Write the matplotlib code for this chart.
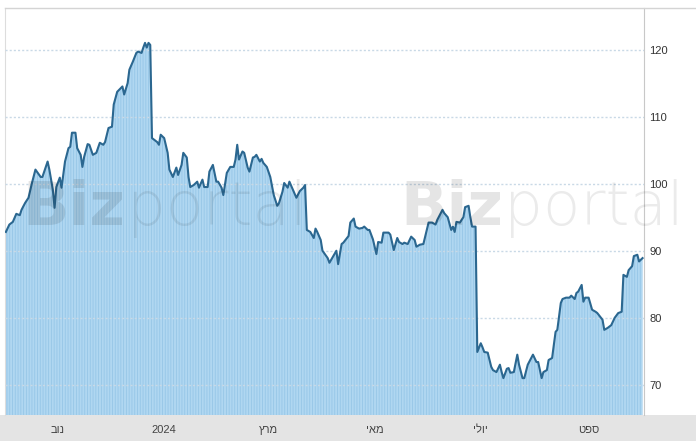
import numpy as np
import matplotlib
matplotlib.use("Agg")
import matplotlib.pyplot as plt
from matplotlib.patches import Rectangle
from matplotlib.lines import Line2D

plt.rcParams["font.family"] = ["Liberation Sans", "DejaVu Sans"]
plt.rcParams["hatch.linewidth"] = 0.6

# days since 2023-10-01 and closing price
start = np.datetime64("2023-10-01")
day_offset = [
    1, 3, 5, 7, 9, 10, 12, 14, 16, 18, 21, 22, 25, 26, 28, 29, 30, 32, 33, 35,
    37, 38, 39, 41, 42, 44, 45, 46, 48, 49, 51, 53, 55, 57,
    58, 60, 62, 63, 65, 68, 69, 71, 72, 74, 76, 77, 79, 80, 81, 82, 83, 84, 85, 88,
    89, 90, 92, 94, 95, 97, 99, 100, 102, 103, 105, 106, 107, 109, 111, 112, 114, 115, 117,
    118, 120, 122, 123, 125, 126, 128, 130, 132, 133, 134, 135, 137, 138, 140, 141,
    143, 144, 145, 147, 148, 149, 151, 153, 155, 157, 158, 160, 161, 163, 164, 166,
    168, 170, 172, 173, 174, 176, 178, 179, 180,
    182, 183, 186, 187, 189, 191, 192, 194, 195, 198, 199, 201, 202, 204, 206, 207,
    209, 210, 212, 214, 215, 217, 218, 221, 222, 224, 226, 227, 229, 230, 232, 234,
    236, 237, 239, 241,
    244, 246, 248, 249, 252, 253, 255, 257, 258, 259, 260, 262, 264, 265, 267, 268,
    269, 271, 272, 274, 275, 276, 278, 280, 281, 283, 285, 286, 287, 289, 290, 291,
    293, 295, 296, 298, 299,
    301, 303, 304, 306, 307, 309, 310, 312, 313, 315, 317, 318, 320, 321, 323, 325,
    326, 328, 329, 330, 332, 333, 334, 336, 338, 340, 341, 344, 345, 347, 349, 351,
    353, 355, 356, 358, 359, 361, 362, 364, 365, 367,
]
close = [
    92.9, 94.0, 94.4, 95.6, 95.4, 96.2, 97.2, 98.0, 100.2, 102.2, 101.1, 101.1, 103.4,
    102.2, 99.2, 96.5, 99.6, 101.0, 99.5, 103.4, 105.4, 105.6, 107.7, 107.7, 105.4,
    104.4, 102.6, 104.1, 106.0, 105.9, 104.4, 104.7, 106.2, 105.9,
    106.3, 108.4, 108.6, 111.9, 113.8, 114.6, 113.4, 115.1, 117.1, 118.3, 119.6, 119.8,
    119.6, 120.4, 121.1, 120.4, 121.1, 120.8, 106.9, 106.3, 105.9, 107.4, 106.9, 104.7,
    102.2, 101.1, 102.5, 101.4, 102.9, 104.7, 104.0, 101.1, 99.6, 99.9, 100.4, 99.5,
    100.7, 99.6, 99.6,
    101.9, 102.9, 100.4, 100.4, 99.5, 98.4, 101.7, 102.6, 102.6, 103.7, 105.9, 103.7,
    104.9, 104.7, 102.5, 101.9, 104.0, 104.1, 104.4, 103.4, 103.8, 103.2, 102.6, 101.1,
    98.4, 96.8, 97.2, 98.9, 100.2, 99.5, 100.4, 99.2, 98.0, 99.0, 99.5, 99.9, 93.2,
    92.9, 92.0, 93.4, 92.9,
    91.7, 90.1, 89.0, 88.3, 89.2, 90.1, 88.1, 91.1, 91.3, 92.3, 94.3, 94.9, 93.7, 93.4,
    93.5, 93.7, 93.2, 93.2, 91.8, 89.6, 91.4, 91.3, 92.8, 92.8, 92.5, 90.2, 92.0, 91.4,
    91.1, 91.3, 91.1, 92.2, 91.7, 90.7, 91.0, 91.1,
    94.3, 94.3, 94.0, 94.7, 96.2, 95.7, 95.1, 93.2, 93.7, 92.9, 94.4, 94.3, 95.1, 96.6,
    96.8, 95.1, 93.7, 93.7, 75.0, 76.3, 75.7, 75.0, 74.9, 72.8, 72.3, 72.0, 73.1, 72.0,
    71.1, 72.5, 72.6, 71.9, 72.0, 74.6, 73.1, 71.1, 71.1,
    73.1, 74.1, 74.6, 73.5, 73.5, 71.1, 72.0, 72.3, 73.8, 74.1, 78.0, 78.3, 82.3, 82.9,
    83.1, 83.1, 83.4, 82.9, 83.8, 84.0, 85.0, 82.5, 83.1, 83.1, 81.3, 81.0, 80.8, 79.8,
    78.3, 78.6, 79.0, 80.1, 80.8, 81.0, 86.5, 86.2, 87.2, 87.8, 89.3, 89.5, 88.5, 89.0,
]

month_ticks = ["2023-11-01", "2024-01-01", "2024-03-01", "2024-05-01", "2024-07-01", "2024-09-01"]
month_labels = ["נוב", "2024", "מרץ", "מאי", "יולי", "ספט"]
y_ticks = [70, 80, 90, 100, 110, 120]

dates = start + np.array(day_offset).astype("timedelta64[D]")


def visual(s):
    # matplotlib draws glyphs left to right, so Hebrew words are reversed for display
    if any("\u0590" <= c <= "\u05ff" for c in s):
        return s[::-1]
    return s


W, H = 696, 441
fig = plt.figure(figsize=(W / 100, H / 100), dpi=100)
ax = fig.add_axes([5 / W, 26 / H, 639 / W, 407 / H])

# grey band under the chart for the month labels
fig.patches.append(Rectangle((0, 0), 1, 26 / H, transform=fig.transFigure,
                             facecolor="#e4e4e4", edgecolor="none", zorder=-10))
fig.lines.append(Line2D([5 / W, 1], [1 - 8 / H, 1 - 8 / H], transform=fig.transFigure,
                        color="#d4d4d4", lw=1))

ax.fill_between(dates, close, 60, facecolor="#b0d7f1", edgecolor="#96c6e7",
                hatch="||||||", linewidth=0, zorder=1)
ax.plot(dates, close, color="#2b6790", lw=1.5, zorder=3)

ax.set_ylim(65.6, 126.3)
ax.set_xlim(start + np.timedelta64(12, "h"), start + np.timedelta64(367 * 24 + 20, "h"))

ax.set_yticks(y_ticks)
ax.yaxis.tick_right()
ax.tick_params(axis="y", length=0, pad=4, labelsize=8, labelcolor="#333333")
ax.yaxis.grid(True, color="#c9d9e6", ls=(0, (1.5, 1.5)), lw=1)
ax.set_axisbelow(False)

ax.set_xticks([np.datetime64(d) for d in month_ticks])
ax.set_xticklabels([visual(s) for s in month_labels])
ax.tick_params(axis="x", length=0, pad=7, labelsize=8, labelcolor="#444444")

for side in ["top", "bottom"]:
    ax.spines[side].set_visible(False)
ax.spines["left"].set_color("#dddddd")
ax.spines["right"].set_color("#c8c8c8")

# faint site watermark
for x0, x1 in [(22, 127), (400, 504)]:
    fig.text(x0 / W, 1 - 225 / H, "Biz", fontsize=44, fontweight="bold",
             family="DejaVu Sans", color="black", alpha=0.1, zorder=5)
    fig.text(x1 / W, 1 - 225 / H, "portal", fontsize=44, fontweight="light",
             family="DejaVu Sans", color="black", alpha=0.08, zorder=5)

fig.savefig("out.png", dpi=100)
